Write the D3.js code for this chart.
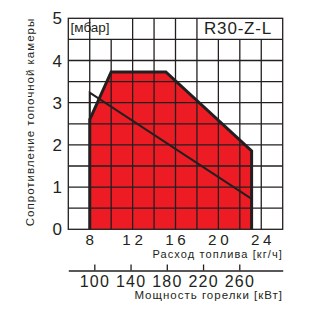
<!DOCTYPE html>
<html><head><meta charset="utf-8">
<script src="https://cdn.jsdelivr.net/npm/d3@7"></script>
<style>
body{margin:0;background:#fff;}
svg{display:block;font-family:"Liberation Sans",Arial,sans-serif;}
</style></head>
<body><svg id="c" width="324" height="312"></svg>
<script>
const fuelTicks = [8, 12, 16, 20, 24];
const powerTicks = [100, 140, 180, 220, 260];
const resistTicks = [0, 1, 2, 3, 4, 5];
const envelopeFuel = [8, 8, 10, 15.1, 23.1, 23.1];
const envelopePressure = [0, 2.6, 3.73, 3.73, 1.86, 0];
const chamberFuel = [8, 8, 23.1];
const chamberPressure = [2.6, 3.24, 0.72];

const svg = d3.select("#c");
const L = 68.3, R = 282.7, T = 18.3, B = 229.3;
const x = d3.scaleLinear().domain([6, 26]).range([L, R]);
const y = d3.scaleLinear().domain([0, 5]).range([B, T]);
const kw = d3.scaleLinear().domain([71.3, 307.9]).range([L, R]);
const red = "#ED1C24", ink = "#231F20";

// envelope fill
const env = envelopeFuel.map((f, i) => [x(f), y(envelopePressure[i])]);
svg.append("path").attr("d", d3.line()(env) + "Z").attr("fill", red);

// grid
const g = svg.append("g").attr("stroke", ink).attr("stroke-width", 1.3);
d3.range(0.5, 5, 0.5).forEach(v => {
  g.append("line").attr("x1", L).attr("x2", R).attr("y1", y(v)).attr("y2", y(v));
});
const topBreak = [10, 20, 22, 24];
d3.range(8, 26, 2).forEach(v => {
  const top = topBreak.includes(v) ? 4.5 : 5;
  g.append("line").attr("x1", x(v)).attr("x2", x(v)).attr("y1", y(0)).attr("y2", y(top));
});
svg.append("rect").attr("x", L).attr("y", T).attr("width", R - L).attr("height", B - T)
  .attr("fill", "none").attr("stroke", ink).attr("stroke-width", 1.3);

// envelope outline
svg.append("path").attr("d", d3.line()(env))
  .attr("fill", "none").attr("stroke", ink).attr("stroke-width", 3).attr("stroke-linejoin", "miter");

// chamber resistance line
const ch = chamberFuel.map((f, i) => [x(f), y(chamberPressure[i])]);
svg.append("path").attr("d", d3.line()(ch))
  .attr("fill", "none").attr("stroke", ink).attr("stroke-width", 2);

// y labels
svg.append("g").selectAll("text").data(resistTicks).join("text")
  .attr("x", 62).attr("y", d => y(d)).attr("dy", "0.36em").attr("text-anchor", "end")
  .attr("font-size", 17).attr("fill", ink).text(d => d);

// fuel labels
svg.append("g").selectAll("text").data(fuelTicks).join("text")
  .attr("x", d => x(d) + 1.8).attr("y", 245.3).attr("text-anchor", "middle")
  .attr("font-size", 15.2).attr("letter-spacing", 3.7).attr("fill", ink).text(d => d);

svg.append("text").attr("x", 283).attr("y", 258.3).attr("text-anchor", "end")
  .attr("font-size", 11).attr("letter-spacing", 1.1).attr("fill", ink).text("Расход  топлива [кг/ч]");

// power axis
const ax = d3.axisBottom(kw).tickValues(powerTicks).tickSizeInner(-6).tickSizeOuter(0).tickFormat("");
const axg = svg.append("g").attr("transform", "translate(0,270.5)").call(ax);
axg.select(".domain").attr("stroke", ink).attr("stroke-width", 1.3);
axg.selectAll(".tick line").attr("stroke", ink).attr("stroke-width", 1.3);
svg.append("g").selectAll("text").data(powerTicks).join("text")
  .attr("x", d => kw(d) + 0.6).attr("y", 287).attr("text-anchor", "middle")
  .attr("font-size", 16).attr("letter-spacing", 1.2).attr("fill", ink).text(d => d);
svg.append("text").attr("x", 283).attr("y", 298.5).attr("text-anchor", "end")
  .attr("font-size", 11.5).attr("letter-spacing", 1).attr("fill", ink).text("Мощность горелки  [кВт]");

// y title
svg.append("text").attr("transform", "translate(34,122) rotate(-90)").attr("text-anchor", "middle")
  .attr("font-size", 11.5).attr("letter-spacing", 1).attr("fill", ink).text("Сопротивление топочной камеры");

// in-chart labels
svg.append("text").attr("x", 70.5).attr("y", 32).attr("font-size", 13.5).attr("fill", ink).text("[мбар]");
svg.append("text").attr("x", 272).attr("y", 34).attr("text-anchor", "end")
  .attr("font-size", 17).attr("letter-spacing", 0.8).attr("fill", ink).text("R30-Z-L");
</script></body></html>
